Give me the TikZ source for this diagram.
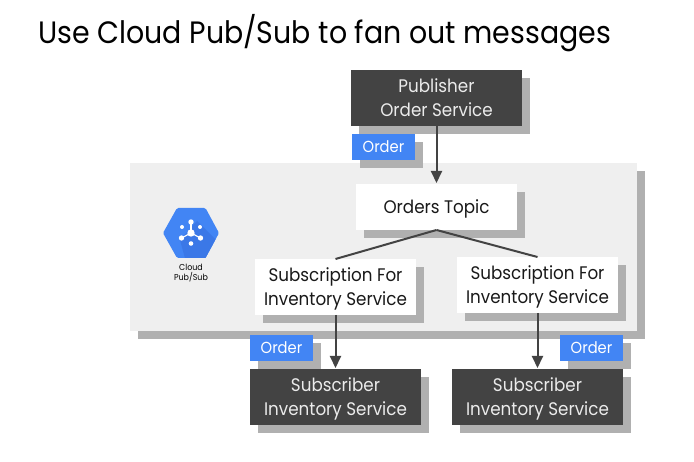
\documentclass[tikz,border=0pt]{standalone}
\usepackage{fontspec}
\setmainfont[FakeStretch=0.92]{Poppins}
\usetikzlibrary{shadows,arrows.meta}
\definecolor{darkbox}{HTML}{434343}
\definecolor{shade}{HTML}{B0B0B0}
\definecolor{panelc}{HTML}{EFEFEF}
\definecolor{bluec}{HTML}{4285F4}
\definecolor{bluedark}{HTML}{3B78E7}
\definecolor{linec}{HTML}{434343}
\newcommand\lowered[1]{\raisebox{-1.8pt}[\height][\depth]{\begin{tabular}{@{}c@{}}#1\end{tabular}}}
\tikzset{
  x=1pt,y=-1pt,
  base/.style={general shadow={fill=shade,shadow xshift=7.5pt,shadow yshift=-8pt},inner sep=0pt,outer sep=0pt,align=center,font=\fontsize{18.2}{24}\selectfont},
  darkn/.style={base,fill=darkbox,text=white!92!black,minimum width=171pt,minimum height=56pt},
  lightn/.style={base,fill=white,text=black!90,minimum width=161pt,minimum height=56pt},
  tagn/.style={base,fill=bluec,text=white,minimum width=63pt,minimum height=26pt,font=\fontsize{16}{18}\selectfont},
  conn/.style={draw=linec,line width=2pt},
  arr/.style={conn,-{Triangle[width=11pt,length=12pt]},shorten >=1pt},
}
\begin{document}
\begin{tikzpicture}
\useasboundingbox (0,0) rectangle (694,462);
\fill[white] (0,0) rectangle (694,462);
\node[anchor=base west,inner sep=0pt,font=\fontsize{30.9}{36}\selectfont,text=black] (title) at (38,44) {Use Cloud Pub/Sub to fan out messages};
\node[general shadow={fill=shade,shadow xshift=8pt,shadow yshift=-8pt},fill=panelc,minimum width=507pt,minimum height=168pt,inner sep=0pt,outer sep=0pt] (panel) at (383.5,247) {};
\node[darkn] (pub) at (436.5,98) {\lowered{Publisher\\Order Service}};
\node[tagn] (tag1) at (383.5,147) {\lowered{Order}};
\node[lightn,minimum height=46pt] (topic) at (436.5,207) {\lowered{Orders Topic}};
\node[lightn] (sub1) at (335.5,287) {\lowered{Subscription For\\Inventory Service}};
\node[lightn] (sub2) at (537.5,285) {\lowered{Subscription For\\Inventory Service}};
\node[tagn] (tag2) at (281.5,348) {\lowered{Order}};
\node[tagn] (tag3) at (591.5,348) {\lowered{Order}};
\node[darkn] (sr1) at (335.5,397) {\lowered{Subscriber\\Inventory Service}};
\node[darkn] (sr2) at (537.5,397) {\lowered{Subscriber\\Inventory Service}};
\draw[arr] (pub.south) -- (topic.north);
\draw[conn] (topic.south) -- (sub1.north);
\draw[conn] (topic.south) -- (sub2.north);
\draw[arr] (sub1.south) -- (sr1.north);
\draw[arr] (sub2.south) -- (sr2.north);
% logo
\path[fill=bluec,rounded corners=1.5pt] (163,233) -- (177,208) -- (205.5,208) -- (219,233) -- (205.5,258) -- (177,258) -- cycle;
\begin{scope}
\clip (163,233) -- (177,208) -- (205.5,208) -- (219,233) -- (205.5,258) -- (177,258) -- cycle;
\fill[bluedark] (197,221) -- (230,254) -- (205,262) -- (186,262) -- (180,240) -- cycle;
\end{scope}
\draw[white,line width=1.1pt] (181.5,238) -- (191,233) -- (200.5,238);
\draw[white,line width=1.1pt] (191,222) -- (191,233);
\fill[white] (191,233) circle[radius=3.7];
\fill[white] (191,222) circle[radius=2.7];
\fill[white] (191,243.5) circle[radius=2.3];
\fill[white] (182,227) circle[radius=2];
\fill[white] (200,227) circle[radius=2];
\fill[white] (181.5,238) circle[radius=2.7];
\fill[white] (200.5,238) circle[radius=2.7];
\node[inner sep=0pt,align=center,font=\fontsize{8.6}{10}\selectfont] (logotext) at (191,273) {Cloud\\Pub/Sub};
\end{tikzpicture}
\end{document}
